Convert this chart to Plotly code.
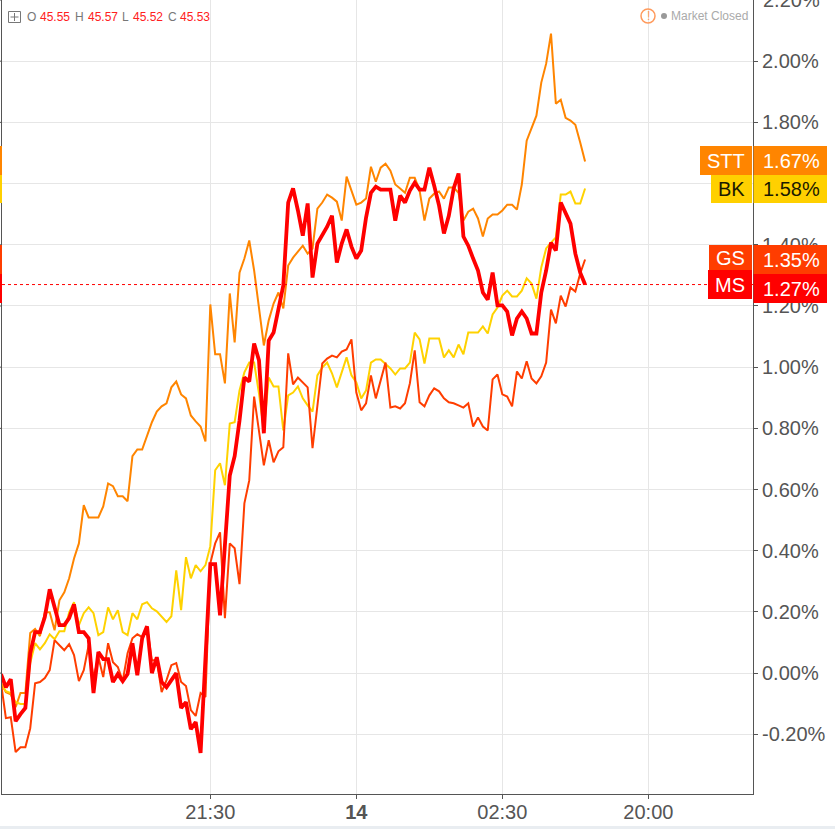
import numpy as np
import plotly.graph_objects as go

# Minutes from 21:30; bars are 5 minutes apart, first bar 17:55
BAR_MINUTES = 5
FIRST_BAR = -215

MS = [-0.003,-0.046,-0.020,-0.157,-0.134,-0.114,0.065,0.134,0.134,0.183,0.274,0.215,0.157,0.157,0.180,0.225,0.134,0.134,0.114,-0.065,
0.069,0.046,0.046,-0.029,-0.003,-0.026,-0.003,0.098,-0.007,0.114,0.153,0.000,0.052,-0.029,-0.046,-0.023,0.000,-0.114,-0.095,-0.183,
-0.160,-0.261,0.049,0.356,0.356,0.189,0.418,0.646,0.709,0.826,0.966,0.953,1.077,1.022,0.784,1.087,1.113,1.195,1.267,1.538,
1.584,1.512,1.430,1.535,1.293,1.404,1.433,1.459,1.495,1.342,1.404,1.450,1.394,1.355,1.381,1.489,1.570,1.590,1.580,1.580,
1.580,1.479,1.561,1.538,1.577,1.603,1.580,1.580,1.652,1.593,1.528,1.437,1.495,1.584,1.633,1.427,1.397,1.355,1.316,1.244,
1.221,1.309,1.202,1.202,1.182,1.104,1.159,1.182,1.159,1.110,1.110,1.244,1.316,1.407,1.381,1.538,1.505,1.469,1.371,1.309,1.270]

GS = [-0.033,-0.147,-0.144,-0.258,-0.242,-0.242,-0.180,-0.033,-0.029,-0.016,0.010,0.108,0.091,0.075,0.095,0.059,-0.026,0.010,0.091,-0.016,
0.052,-0.013,0.098,0.036,0.020,-0.026,0.065,0.114,0.127,0.118,0.150,0.042,0.042,-0.062,-0.023,0.026,0.033,-0.029,-0.042,-0.121,
-0.140,-0.065,-0.078,0.359,0.424,0.460,0.180,0.424,0.408,0.291,0.555,0.630,0.904,0.784,0.679,0.761,0.689,0.725,0.738,1.045,
0.944,0.966,0.950,0.934,0.735,0.882,1.012,1.028,1.038,1.032,1.051,1.058,1.091,0.917,0.859,0.882,0.973,0.898,0.957,1.015,
0.868,0.872,0.865,0.882,0.947,1.055,0.885,0.872,0.908,0.931,0.921,0.898,0.885,0.882,0.875,0.868,0.882,0.806,0.836,0.806,
0.793,0.960,0.976,0.911,0.904,0.872,0.986,0.963,1.019,0.963,0.947,0.970,1.015,1.188,1.143,1.234,1.198,1.260,1.247,1.306,1.352]

BK = [-0.033,-0.059,-0.065,-0.095,-0.101,-0.101,0.033,0.098,0.078,0.098,0.127,0.111,0.137,0.137,0.199,0.232,0.157,0.196,0.215,0.196,
0.124,0.134,0.215,0.176,0.206,0.134,0.124,0.196,0.176,0.225,0.232,0.212,0.202,0.183,0.167,0.186,0.336,0.206,0.379,0.310,
0.353,0.333,0.353,0.415,0.663,0.686,0.614,0.816,0.820,0.924,0.983,1.015,1.015,0.914,0.793,0.966,0.937,0.937,0.793,0.908,
0.917,0.937,0.898,0.875,0.855,0.973,0.999,1.015,0.980,0.934,0.980,1.032,0.973,0.950,0.898,0.924,1.015,1.025,1.025,1.012,
0.996,0.976,0.996,0.996,1.015,1.113,1.091,1.012,1.094,1.094,1.094,1.032,1.055,1.032,1.074,1.042,1.113,1.113,1.113,1.133,
1.110,1.172,1.195,1.234,1.250,1.231,1.231,1.250,1.290,1.273,1.224,1.326,1.388,1.407,1.424,1.564,1.564,1.574,1.535,1.535,1.584]

STT = [-0.033,-0.062,-0.069,-0.111,-0.065,-0.065,0.131,0.144,0.121,0.199,0.199,0.140,0.238,0.264,0.310,0.375,0.424,0.549,0.509,0.509,
0.509,0.545,0.620,0.611,0.578,0.578,0.562,0.709,0.731,0.731,0.777,0.820,0.855,0.872,0.882,0.934,0.953,0.911,0.898,0.842,
0.823,0.806,0.757,1.205,1.042,1.042,0.947,1.241,1.081,1.309,1.355,1.414,1.316,1.185,1.071,1.153,1.208,1.244,1.192,1.332,
1.358,1.378,1.397,1.371,1.388,1.518,1.538,1.564,1.554,1.541,1.479,1.623,1.577,1.531,1.538,1.551,1.655,1.606,1.652,1.665,
1.642,1.597,1.584,1.570,1.619,1.619,1.577,1.479,1.551,1.567,1.574,1.551,1.587,1.587,1.570,1.479,1.508,1.518,1.486,1.427,
1.486,1.499,1.499,1.512,1.531,1.531,1.515,1.597,1.740,1.779,1.822,1.930,1.992,2.090,1.861,1.874,1.815,1.806,1.792,1.734,1.672]

TICK_Y = [-0.2, 0, 0.2, 0.4, 0.6, 0.8, 1.0, 1.2, 1.4, 1.6, 1.8, 2.0]
TICK_Y_TEXT = ["-0.20%", "0.00%", "0.20%", "0.40%", "0.60%", "0.80%", "1.00%", "1.20%", "1.40%", "", "1.80%", "2.00%"]
TOP_TICK_TEXT = "2.20%"
TICK_X = [0, 150, 300, 450]
TICK_X_TEXT = ["21:30", "<b>14</b>", "02:30", "20:00"]

C_STT, C_BK, C_GS, C_MS = "#ff8500", "#ffd200", "#ff3d00", "#ff0000"
FONT = "Liberation Sans"
AXIS = "#555555"
W, H = 835, 829
L, R, T, B = 2, 82, 0, 35

def px(x):
    return (x - L) / (W - L - R)
def py(y):
    return (H - B - y) / (H - T - B)

fig = go.Figure()
xs = FIRST_BAR + BAR_MINUTES * np.arange(len(MS))
for name, vals, col, wd in [("STT", STT, C_STT, 2), ("BK", BK, C_BK, 2), ("GS", GS, C_GS, 2), ("MS", MS, C_MS, 3.8)]:
    fig.add_trace(go.Scatter(x=xs, y=vals, mode="lines", name=name, line=dict(color=col, width=wd), hoverinfo="skip"))

shapes, ann = [], []
def rect(x0, y0, x1, y1, fill, line=None):
    shapes.append(dict(type="rect", xref="paper", yref="paper", x0=px(x0), x1=px(x1), y0=py(y0), y1=py(y1),
                       fillcolor=fill, line=dict(width=1 if line else 0, color=line or fill), layer="above"))
def text(x, y, s, col, size=20, anchor="center"):
    ann.append(dict(xref="paper", yref="paper", x=px(x), y=py(y), text=s, showarrow=False, xanchor=anchor, yanchor="middle",
                    font=dict(family=FONT, size=size, color=col), borderpad=0, borderwidth=0))

# Left-hand tick marks
for v in TICK_Y + [2.2]:
    shapes.append(dict(type="line", xref="paper", yref="y", x0=px(0), x1=px(2), y0=v, y1=v,
                       line=dict(color=AXIS, width=1), layer="above"))

# Last-price line of MS
shapes.append(dict(type="line", xref="paper", yref="y", x0=0, x1=1, y0=MS[-1], y1=MS[-1],
                   line=dict(color=C_MS, width=1, dash="dot"), layer="above"))

# Price labels
for nm, val, col, tcol, nbox, vbox in [
    ("STT", "1.67%", C_STT, "#ffffff", (700, 146, 175), (146, 175)),
    ("BK", "1.58%", "#ffd000", "#1a1a00", (711, 175, 203), (175, 203)),
    ("GS", "1.35%", C_GS, "#ffffff", (709, 245, 270), (245, 274)),
    ("MS", "1.27%", C_MS, "#ffffff", (708, 270, 299), (274, 303)),
]:
    rect(nbox[0], nbox[1], 752, nbox[2], col)
    rect(753.5, vbox[0], 827, vbox[1], col)
    rect(0, vbox[0], 2, vbox[1], col)
    text((nbox[0] + 752) / 2, (nbox[1] + nbox[2]) / 2 + 0.5, nm, tcol)
    text(791, (vbox[0] + vbox[1]) / 2 + 0.5, val, tcol)

# Clipped top axis label
text(763, 0, TOP_TICK_TEXT, AXIS, anchor="left")

# Bottom page band
rect(0, 826, 835, 829, "#e9edf1")

# OHLC legend
rect(8.5, 11.5, 20.5, 22.5, "rgba(0,0,0,0)", "#777777")
shapes.append(dict(type="line", xref="paper", yref="paper", x0=px(10.5), x1=px(18.5), y0=py(17), y1=py(17), line=dict(color="#777777", width=1), layer="above"))
shapes.append(dict(type="line", xref="paper", yref="paper", x0=px(14.5), x1=px(14.5), y0=py(13), y1=py(21), line=dict(color="#777777", width=1), layer="above"))
for x, s, col in [(27, "O", "#777777"), (40, "45.55", "#ff2020"), (75, "H", "#777777"), (88, "45.57", "#ff2020"),
                  (122, "L", "#777777"), (133, "45.52", "#ff2020"), (168, "C", "#777777"), (180, "45.53", "#ff2020")]:
    text(x, 16.5, s, col, size=12, anchor="left")

# Market status
shapes.append(dict(type="circle", xref="paper", yref="paper", x0=px(641), x1=px(655), y0=py(9), y1=py(23),
                   line=dict(color="#ff9a5c", width=1.5), fillcolor="rgba(0,0,0,0)", layer="above"))
text(648, 16, "!", "#ff9a5c", size=12)
shapes.append(dict(type="circle", xref="paper", yref="paper", x0=px(661), x1=px(667), y0=py(13), y1=py(19),
                   line=dict(width=0), fillcolor="#999999", layer="above"))
text(671, 16, "Market Closed", "#aaaaaa", size=12, anchor="left")

fig.update_layout(
    width=W, height=H, margin=dict(l=L, r=R, t=T, b=B, pad=0), paper_bgcolor="#ffffff", plot_bgcolor="#ffffff",
    showlegend=False, font=dict(family=FONT, size=20, color=AXIS), shapes=shapes, annotations=ann,
    xaxis=dict(range=[-214, 557.5], tickmode="array", tickvals=TICK_X, ticktext=TICK_X_TEXT, showgrid=True, gridcolor="#e6e6e6",
               gridwidth=1, zeroline=False, showline=True, linecolor=AXIS, linewidth=1, ticks="outside", ticklen=4,
               tickcolor=AXIS, tickfont=dict(size=20, color=AXIS, family=FONT), fixedrange=True, ticklabelstandoff=-4),
    yaxis=dict(range=[-0.395, 2.2], side="right", tickmode="array", tickvals=TICK_Y, ticktext=TICK_Y_TEXT, showgrid=True,
               gridcolor="#e6e6e6", gridwidth=1, zeroline=False, showline=True, mirror=True, linecolor=AXIS, linewidth=1,
               ticks="outside", ticklen=4, tickcolor=AXIS, tickfont=dict(size=20, color=AXIS, family=FONT), fixedrange=True),
)
fig.write_html("out.html", config=dict(displayModeBar=False),
               post_script="document.body.style.margin='0';document.body.style.overflow='hidden';")
